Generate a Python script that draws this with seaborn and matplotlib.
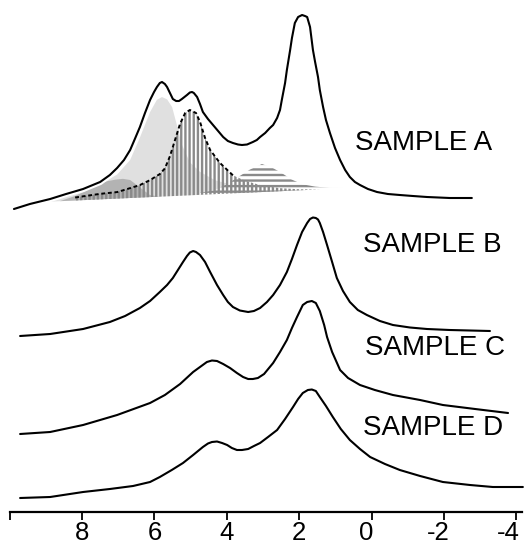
import numpy as np
import pandas as pd
import matplotlib
matplotlib.use("Agg")
import matplotlib.pyplot as plt
import matplotlib.patheffects as pe
import matplotlib.transforms as mtransforms
import seaborn as sns

# ---- stacked spectra (chemical shift / ppm, stacked intensity in a.u.) ----
ppm_a = [9.88, 9.44, 8.88, 8.44, 7.97, 7.50, 7.23, 7.03, 6.84, 6.67, 6.54, 6.40,
         6.26, 6.12, 6.01, 5.93, 5.85, 5.79, 5.71, 5.65, 5.57, 5.49, 5.40, 5.32,
         5.24, 5.10, 5.02, 4.96, 4.91, 4.82, 4.74, 4.66, 4.52, 4.38, 4.24, 4.10,
         3.97, 3.83, 3.69, 3.58, 3.44, 3.28, 3.17, 3.08, 2.94, 2.81, 2.72, 2.61,
         2.53, 2.48, 2.39, 2.34, 2.25, 2.20, 2.12, 2.03, 1.92, 1.84, 1.78, 1.70,
         1.62, 1.56, 1.48, 1.43, 1.34, 1.26, 1.15, 1.01, 0.87, 0.73, 0.60, 0.46,
         0.32, 0.10, -0.15, -0.45, -0.78, -1.14, -1.53, -2.16, -2.77]
int_a = [303, 308, 313, 318, 323, 330, 337, 344, 352, 362, 373, 385,
         399, 412, 420, 425, 429, 430, 428, 425, 419, 413, 411, 411,
         413, 417, 419.5, 420, 419, 415, 408, 400, 393, 387, 381, 375,
         371, 369, 367.5, 367, 367.5, 370, 372, 375, 379, 384, 387, 394,
         402, 412, 429, 442, 462, 474, 489, 495, 497, 496, 495, 485,
         462, 450, 435, 422, 405, 392, 379, 364, 352, 342, 335, 330,
         327, 323, 320, 318, 317, 316, 315, 314, 314]

ppm_b = [9.71, 8.88, 7.97, 7.23, 6.81, 6.40, 6.12, 5.85, 5.65, 5.49, 5.35, 5.21,
         5.10, 5.02, 4.93, 4.85, 4.74, 4.60, 4.46, 4.27, 4.10, 3.97, 3.83, 3.64,
         3.41, 3.25, 3.08, 2.89, 2.72, 2.53, 2.34, 2.20, 2.06, 1.92, 1.78, 1.70,
         1.62, 1.54, 1.48, 1.43, 1.34, 1.23, 1.09, 0.96, 0.79, 0.60, 0.38, 0.13,
         -0.23, -0.59, -1.06, -1.53, -2.16, -3.27]
int_b = [176, 178, 183, 190, 196, 204, 211, 220, 227, 234, 242, 250,
         256, 259.5, 261, 260, 257, 250, 240, 227, 217, 210, 205, 201.5,
         200, 201, 204, 210, 217, 227, 240, 253, 267, 280, 289, 293,
         294.5, 294, 292.5, 289, 280, 267, 250, 234, 221, 210, 202, 197,
         191, 187, 184.5, 183, 182, 181]

ppm_c = [9.71, 8.88, 7.97, 7.03, 6.12, 5.71, 5.29, 4.93, 4.74, 4.55, 4.41, 4.27,
         4.10, 3.91, 3.72, 3.55, 3.41, 3.28, 3.14, 2.97, 2.72, 2.53, 2.34, 2.20,
         2.06, 1.90, 1.78, 1.65, 1.54, 1.43, 1.31, 1.23, 1.09, 0.87, 0.65, 0.32,
         -0.09, -0.59, -1.34, -1.97, -2.86, -3.77]
int_c = [78, 80, 87, 97, 109, 117, 128, 140, 145, 150, 151.5, 151,
         148, 144, 139, 135, 133, 133, 134, 138, 149, 160, 172, 184,
         195, 207, 210, 211, 209, 201, 187, 175, 160, 142, 134, 127,
         122, 117, 112, 107, 103, 99]

ppm_d = [9.71, 8.88, 7.97, 7.23, 6.59, 6.12, 5.85, 5.52, 5.21, 4.93, 4.66, 4.52,
         4.41, 4.27, 4.13, 3.99, 3.86, 3.72, 3.58, 3.41, 3.25, 3.08, 2.86, 2.61,
         2.39, 2.17, 2.03, 1.90, 1.76, 1.65, 1.54, 1.43, 1.26, 1.07, 0.85, 0.60,
         0.32, 0.04, -0.37, -0.78, -1.34, -1.97, -2.72, -3.35, -4.18]
int_d = [14, 15, 20, 23, 26, 30, 35, 42, 49, 57, 65, 68.5,
         70, 70.5, 69, 67, 64, 62, 62, 63, 66, 69, 75, 82,
         93, 105, 113, 119, 122, 122.5, 121, 115, 106, 95, 83, 72,
         63, 55, 48, 42, 36, 30, 27, 25, 25]

sample_names = ["SAMPLE A", "SAMPLE B", "SAMPLE C", "SAMPLE D"]
label_ppm = [0.46, 0.24, 0.18, 0.24]
label_int = [362, 260, 157, 77]

# ---- deconvolution of sample A: linear baseline + four components ----
base_ppm = [9.90, 0.40]
base_int = [308.7, 324.3]

fit1_ppm = [9.44, 8.61, 7.97, 7.50, 7.03, 6.67, 6.40, 6.12, 5.93, 5.79, 5.65,
            5.51, 5.38, 5.24, 5.02, 4.74, 4.33, 3.77, 3.08, 1.98]
fit1_h = [1.5, 5, 10, 15, 24, 38, 60, 85, 97, 99.5, 97,
          89, 71, 51, 33, 23, 14, 7.5, 3, 0]

fit2_ppm = [8.19, 7.50, 7.03, 6.76, 6.40, 6.12, 5.85, 5.71, 5.57, 5.43, 5.29,
            5.15, 5.02, 4.85, 4.74, 4.60, 4.46, 4.19, 3.83, 3.49, 3.08, 2.53,
            1.98, 1.42]
fit2_h = [3, 5.5, 6.5, 9, 12.5, 17, 22.6, 28, 40, 56, 72,
          82.5, 85.3, 82, 73, 56.6, 44.4, 31, 18, 12, 7, 3,
          1, 0]

fit3_ppm = [8.61, 8.19, 7.90, 7.63, 7.36, 7.08, 6.87, 6.67, 6.48, 6.31, 6.12, 5.85]
fit3_h = [0, 4.5, 9, 14, 17.5, 19, 19.5, 18, 12.5, 7.5, 2, 0]

fit4_ppm = [4.74, 4.33, 3.97, 3.69, 3.36, 3.03, 2.75, 2.48, 2.20, 1.92, 1.56, 1.15, 0.60]
fit4_h = [2, 4, 10, 16, 23, 28, 24, 18, 11, 6, 3, 1, 0]

tick_pos = [10, 8, 6, 4, 2, 0, -2, -4]
tick_lab = ["", "8", "6", "4", "2", "0", "-2", "-4"]
# horizontal nudge of each tick label (points)
tick_nudge = [0, 0, 0, 0, 0, -4, -4, -5.5]

# ---- style ----
sns.set_theme(style="ticks")
plt.rcParams["font.family"] = ["Liberation Sans", "DejaVu Sans"]
plt.rcParams["hatch.linewidth"] = 1.7

fig = plt.figure(figsize=(5.25, 5.44), dpi=100)
ax = fig.add_axes([9.6 / 525, 32 / 544, 512.2 / 525, 512 / 544])


def baseline_at(x):
    x = np.asarray(x, dtype=float)
    return np.interp(-x, -np.asarray(base_ppm), base_int)


def component(ppm, h):
    x = np.asarray(ppm, dtype=float)
    b = baseline_at(x)
    return x, b, b + np.asarray(h, dtype=float)


# broad component (light grey)
x1, b1, t1 = component(fit1_ppm, fit1_h)
ax.fill_between(x1, b1, t1, facecolor="#e0e0e0", edgecolor="none", lw=0, zorder=1)

# small component (medium grey)
x3, b3, t3 = component(fit3_ppm, fit3_h)
ax.fill_between(x3, b3, t3, facecolor="#b3b3b3", edgecolor="none", lw=0, zorder=2)

# horizontally striped component
x4, b4, t4 = component(fit4_ppm, fit4_h)
ax.fill_between(x4, b4, t4, facecolor="white", edgecolor="#8a8a8a", hatch="---",
                lw=0, zorder=3)

# vertically striped component with dashed envelope
x2, b2, t2 = component(fit2_ppm, fit2_h)
ax.fill_between(x2, b2, t2, facecolor="none", edgecolor="#8a8a8a", hatch="||||",
                lw=0, zorder=4)
mask = x2 >= 3.8
sns.lineplot(x=x2[mask], y=t2[mask], color="black", lw=1.4, ax=ax,
             linestyle=(0, (2.0, 1.4)), sort=False, zorder=5)

# stacked spectra
spectra = [(ppm_a, int_a), (ppm_b, int_b), (ppm_c, int_c), (ppm_d, int_d)]
for i, (px, py) in enumerate(spectra):
    df = pd.DataFrame({"ppm": px, "intensity": py})
    sns.lineplot(data=df, x="ppm", y="intensity", color="black", lw=1.5,
                 sort=False, estimator=None, ax=ax, zorder=6)
    line = ax.lines[-1]
    line.set_clip_on(False)
    line.set_solid_joinstyle("round")
    if i == 0:
        line.set_path_effects([pe.Stroke(linewidth=4.5, foreground="white"),
                               pe.Normal()])

for name, lx, ly in zip(sample_names, label_ppm, label_int):
    ax.text(lx, ly, name, ha="left", va="baseline", fontsize=20, color="black")

ax.set_xlim(10, -4.15)
ax.set_ylim(0, 512)
ax.set_xticks(tick_pos)
ax.set_xticklabels(tick_lab)
ax.set_yticks([])
ax.set_xlabel("")
ax.set_ylabel("")
for s in ["left", "top", "right"]:
    ax.spines[s].set_visible(False)
ax.spines["bottom"].set_color("black")
ax.spines["bottom"].set_linewidth(1.6)
ax.tick_params(axis="x", direction="out", length=6, width=1.3, pad=0.5,
               labelsize=18.5, colors="black")
for lab, dx in zip(ax.get_xticklabels(), tick_nudge):
    if dx:
        shift = mtransforms.ScaledTranslation(dx / 72, 0, fig.dpi_scale_trans)
        lab.set_transform(lab.get_transform() + shift)
ax.patch.set_alpha(0)

fig.savefig("out.png", dpi=100)
